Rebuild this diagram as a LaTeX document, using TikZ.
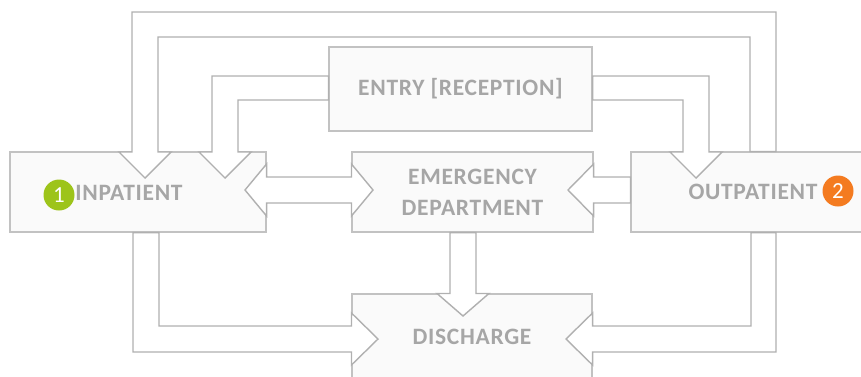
\documentclass[tikz,border=0pt]{standalone}
\usepackage{fontspec}
\setmainfont{Carlito}
\newfontfamily\unitfont[LetterSpace=3]{Carlito}

\definecolor{boxline}{HTML}{C2C2C2}
\definecolor{boxfill}{HTML}{FAFAFA}
\definecolor{arrowline}{HTML}{B0B0B0}
\definecolor{labelgray}{HTML}{A6A6A6}
\definecolor{inpgreen}{HTML}{9DC41A}
\definecolor{outorange}{HTML}{F47B20}

\tikzset{
	unit/.style={draw=boxline, fill=boxfill, line width=1.1pt, inner sep=0pt,
		text=labelgray, font=\unitfont\fontsize{23.5}{31}\selectfont\bfseries, align=center},
	lbl/.style={text=labelgray, font=\unitfont\fontsize{23.5}{31}\selectfont\bfseries},
	barrow/.style={draw=arrowline, fill=white, line width=1.4pt, line join=miter},
	badge/.style={circle, minimum size=31pt, inner sep=0pt, text=white,
		font=\fontsize{23}{23}\selectfont},
}

\begin{document}
\begin{tikzpicture}[x=1pt, y=-1pt]
		\useasboundingbox (0,0) rectangle (861,376);

		% the five units
		\node[unit, minimum width=256pt, minimum height=80pt] at (138,192)(inp){};
		\node[unit, minimum width=244pt, minimum height=80pt] at (753,192)(outp){OUTPATIENT};
		\node[unit, minimum width=263pt, minimum height=84pt] at (460.5,89)(entry){ENTRY [RECEPTION]};
		\node[unit, minimum width=241pt, minimum height=80pt] at (472.5,192)(emer){EMERGENCY\\DEPARTMENT};
		\node[unit, minimum width=240pt, minimum height=86pt] at (472,337)(dis){DISCHARGE};

		% entry -> inpatient
		\draw[barrow] (entry.west |- 0,76) -| (212,152) -- (199,152) -- (225,178) -- (251,152)
			-- (238,152) |- (entry.west |- 0,100) -- cycle;
		% outpatient -> inpatient, round the top
		\draw[barrow] (776,0 |- outp.north) |- (132,12) -- (132,152) -- (119,152) -- (145,178)
			-- (171,152) -- (158,152) |- (750,37) -- (750,0 |- outp.north) -- cycle;
		% entry -> outpatient
		\draw[barrow] (entry.east |- 0,76) -| (709,152) -- (722,152) -- (696,178) -- (670,152)
			-- (683,152) |- (entry.east |- 0,100) -- cycle;
		% inpatient <-> emergency
		\draw[barrow] (245,190) -- (inp.east |- 0,164) -- (inp.east |- 0,177) -- (emer.west |- 0,177)
			-- (emer.west |- 0,164) -- (373,190) -- (emer.west |- 0,216) -- (emer.west |- 0,203)
			-- (inp.east |- 0,203) -- (inp.east |- 0,216) -- cycle;
		% outpatient -> emergency
		\draw[barrow] (outp.west |- 0,177) -- (emer.east |- 0,177) -- (emer.east |- 0,164) -- (568,190)
			-- (emer.east |- 0,216) -- (emer.east |- 0,203) -- (outp.west |- 0,203) -- cycle;
		% emergency -> discharge
		\draw[barrow] (450,0 |- emer.south) -- (450,0 |- dis.north) -- (437,0 |- dis.north) -- (463,316)
			-- (489,0 |- dis.north) -- (476,0 |- dis.north) -- (476,0 |- emer.south) -- cycle;
		% inpatient -> discharge
		\draw[barrow] (133,0 |- inp.south) |- (dis.west |- 0,352) -- (dis.west |- 0,365) -- (378,339)
			-- (dis.west |- 0,313) -- (dis.west |- 0,326) -| (159,0 |- inp.south) -- cycle;
		% outpatient -> discharge
		\draw[barrow] (776,0 |- outp.south) |- (dis.east |- 0,352) -- (dis.east |- 0,365) -- (566,339)
			-- (dis.east |- 0,313) -- (dis.east |- 0,326) -| (751,0 |- outp.south) -- cycle;

		% labels and badges
		\node[lbl] at (129,193)(inptxt){INPATIENT};
		\node[badge, fill=inpgreen] at (59,195)(one){1};
		\node[badge, fill=outorange] at (838,191)(two){2};
	\end{tikzpicture}
\end{document}
